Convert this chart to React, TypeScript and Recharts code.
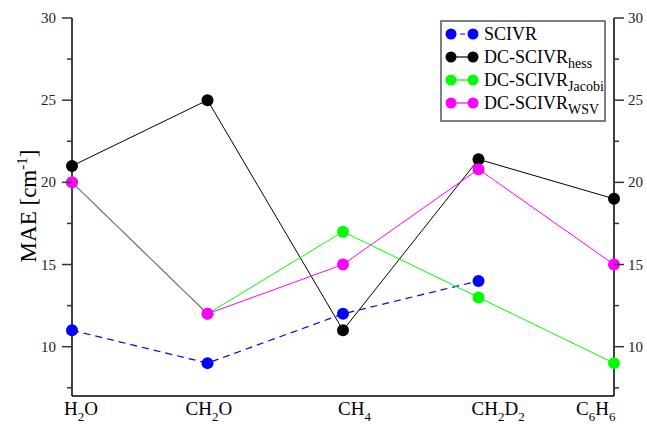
import { Legend, Line, LineChart, XAxis, YAxis } from "recharts";

const molecules = ["H_2O", "CH_2O", "CH_4", "CH_2D_2", "C_6H_6"];
const scivr = [11, 9, 12, 14, null];
const dcHess = [21, 25, 11, 21.4, 19];
const dcJacobi = [20, 12, 17, 13, 9];
const dcWsv = [20, 12, 15, 20.8, 15];
const yTicks = [7.5, 10, 12.5, 15, 17.5, 20, 22.5, 25, 27.5, 30];

// where the Jacobi and WSV curves coincide the reference shows a grey line
const data = molecules.map((m, i) => ({
  name: m,
  scivr: scivr[i],
  hess: dcHess[i],
  jacobi: dcJacobi[i],
  wsv: dcWsv[i],
  overlap: dcJacobi[i] === dcWsv[i] ? dcJacobi[i] : null
}));

const legendItems = [
  { name: "SCIVR", sub: "", color: "#0000ff", dashed: true },
  { name: "DC-SCIVR", sub: "hess", color: "#000000", dashed: false },
  { name: "DC-SCIVR", sub: "Jacobi", color: "#00ff00", dashed: false },
  { name: "DC-SCIVR", sub: "WSV", color: "#ff00ff", dashed: false }
];

const FONT = "'Liberation Serif', 'Times New Roman', serif";
const xShift = [-8, -22, -5, -7, -38];

function chem(label: string) {
  const out: JSX.Element[] = [];
  let low = false;
  for (let i = 0; i < label.length; i++) {
    if (label[i] === "_") {
      out.push(
        <tspan key={i} dy={low ? 0 : 6} fontSize={13}>
          {label[i + 1]}
        </tspan>
      );
      low = true;
      i++;
    } else {
      out.push(
        <tspan key={i} dy={low ? -6 : 0}>
          {label[i]}
        </tspan>
      );
      low = false;
    }
  }
  return out;
}

function XTick({ x, y, payload }: any) {
  const idx = molecules.indexOf(payload.value);
  return (
    <text x={x + (xShift[idx] ?? 0)} y={y + 19} fontSize={19} fontFamily={FONT} fill="#000" textAnchor="start">
      {chem(payload.value)}
    </text>
  );
}

function YTick({ x, y, payload, side }: any) {
  const major = payload.value % 5 === 0;
  const dir = side === "right" ? 1 : -1;
  return (
    <g>
      <line x1={x} x2={x + dir * (major ? 10 : 5)} y1={y} y2={y} stroke="#333" strokeWidth={1.5} />
      {major ? (
        <text
          x={x + dir * (side === "right" ? 14 : 16)}
          y={y + 5}
          fontSize={15}
          fontFamily={FONT}
          fill="#222"
          textAnchor={side === "right" ? "start" : "end"}
        >
          {payload.value}
        </text>
      ) : null}
    </g>
  );
}

function YLabel() {
  return (
    <text transform="translate(36,206) rotate(-90)" textAnchor="middle" fontSize={23} fontFamily={FONT} fill="#000">
      MAE [cm
      <tspan dy={-9} fontSize={15}>
        -1
      </tspan>
      <tspan dy={9}>]</tspan>
    </text>
  );
}

function LegendBox() {
  return (
    <svg width={174} height={102} style={{ display: "block" }}>
      <rect x={1} y={1} width={164} height={100} fill="#fff" stroke="#555" strokeWidth={1.5} />
      {legendItems.map((it, i) => {
        const cy = 14 + i * 23;
        return (
          <g key={i}>
            <line
              x1={11}
              x2={33}
              y1={cy}
              y2={cy}
              stroke={it.color}
              strokeWidth={1.2}
              strokeDasharray={it.dashed ? "5 4" : undefined}
            />
            <circle cx={11} cy={cy} r={5.5} fill={it.color} />
            <circle cx={33} cy={cy} r={5.5} fill={it.color} />
            <text x={44} y={cy + 6} fontSize={18} fontFamily={FONT} fill="#000">
              {it.name}
              {it.sub ? (
                <tspan dy={5} fontSize={14}>
                  {it.sub}
                </tspan>
              ) : null}
            </text>
          </g>
        );
      })}
    </svg>
  );
}

export default function App() {
  return (
    <div style={{ width: 647, height: 424, background: "#fff" }}>
      <style>{"body{margin:0}"}</style>
      <LineChart
        width={647}
        height={424}
        data={data}
        margin={{ top: 18, right: 0, left: 0, bottom: 0 }}
        style={{ fontFamily: FONT }}
      >
        <XAxis
          dataKey="name"
          height={28}
          axisLine={{ stroke: "#000", strokeWidth: 1.5 }}
          tickLine={false}
          tickSize={0}
          tickMargin={0}
          interval={0}
          tick={<XTick />}
        />
        <XAxis
          xAxisId="top"
          dataKey="name"
          orientation="top"
          height={0}
          axisLine={{ stroke: "#000", strokeWidth: 1.5 }}
          tickLine={false}
          tick={false}
        />
        <YAxis
          type="number"
          width={72}
          domain={[7, 30]}
          ticks={yTicks}
          interval={0}
          allowDataOverflow
          axisLine={{ stroke: "#000", strokeWidth: 1.5 }}
          tickLine={false}
          tickSize={0}
          tickMargin={0}
          tick={<YTick side="left" />}
          label={<YLabel />}
        />
        <YAxis
          yAxisId="right"
          orientation="right"
          type="number"
          width={33}
          domain={[7, 30]}
          ticks={yTicks}
          interval={0}
          allowDataOverflow
          axisLine={{ stroke: "#000", strokeWidth: 1.5 }}
          tickLine={false}
          tickSize={0}
          tickMargin={0}
          tick={<YTick side="right" />}
        />
        <Legend
          layout="vertical"
          align="center"
          verticalAlign="middle"
          content={() => <LegendBox />}
          wrapperStyle={{ position: "absolute", left: 440, top: 20, width: 174, height: 102 }}
        />
        <Line
          dataKey="scivr"
          stroke="#0000ff"
          strokeWidth={1.2}
          strokeDasharray="7 5"
          dot={{ r: 6, fill: "#0000ff", stroke: "#0000ff", strokeWidth: 0 }}
          activeDot={false}
          isAnimationActive={false}
        />
        <Line
          dataKey="hess"
          stroke="#000"
          strokeWidth={1}
          dot={{ r: 6, fill: "#000", stroke: "#000", strokeWidth: 0 }}
          activeDot={false}
          isAnimationActive={false}
        />
        <Line
          dataKey="jacobi"
          stroke="#00ff00"
          strokeWidth={1}
          dot={{ r: 6, fill: "#00ff00", stroke: "#00ff00", strokeWidth: 0 }}
          activeDot={false}
          isAnimationActive={false}
        />
        <Line
          dataKey="wsv"
          stroke="#ff00ff"
          strokeWidth={1}
          dot={false}
          activeDot={false}
          isAnimationActive={false}
        />
        <Line
          dataKey="overlap"
          stroke="#808080"
          strokeWidth={1.2}
          dot={false}
          activeDot={false}
          legendType="none"
          isAnimationActive={false}
        />
        <Line
          dataKey="wsv"
          stroke="none"
          dot={{ r: 6, fill: "#ff00ff", stroke: "#ff00ff", strokeWidth: 0 }}
          activeDot={false}
          legendType="none"
          isAnimationActive={false}
        />
      </LineChart>
    </div>
  );
}
